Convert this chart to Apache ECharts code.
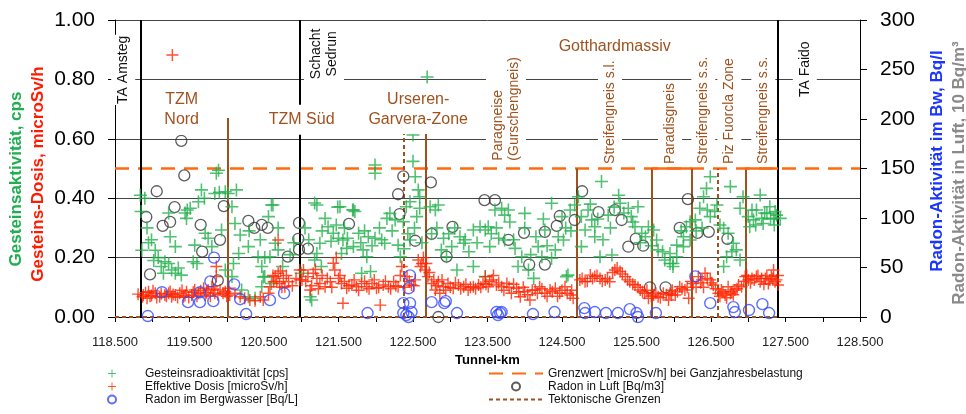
<!DOCTYPE html>
<html lang="de">
<head>
<meta charset="utf-8">
<title>Radioaktivität Gotthard-Basistunnel</title>
<script src="https://cdn.jsdelivr.net/npm/echarts@6/dist/echarts.min.js"></script>
<style>
    html, body { margin: 0; padding: 0; background: #fff; }
    #chart { width: 966px; height: 414px; }
</style>
</head>
<body>
<div id="chart"></div>
<script>
    var FONT = "'Liberation Sans', Arial, sans-serif";

    // Gesteinsradioaktivität [cps]  -> [km, cps]
    var gestein = [
        [118.84,0.41],[118.90,0.40],[118.85,0.355],[118.93,0.30],[118.86,0.225],[118.95,0.25],[118.99,0.26],[119.04,0.225],
        [119.08,0.20],[119.17,0.186],[119.22,0.18],[119.26,0.158],[119.15,0.147],[119.31,0.147],[119.39,0.141],[119.31,0.237],
        [119.24,0.27],[119.22,0.35],[119.44,0.35],[119.46,0.332],[119.51,0.366],[119.62,0.388],[119.66,0.428],[119.57,0.242],
        [119.55,0.186],[119.60,0.18],[119.71,0.282],[119.75,0.265],[119.80,0.237],[119.84,0.416],[119.89,0.494],[119.86,0.484],
        [119.98,0.422],[120.02,0.416],[120.13,0.428],[120.07,0.371],[119.93,0.293],[120.11,0.315],[120.18,0.276],[120.16,0.214],
        [120.09,0.18],[120.07,0.136],[120.20,0.091],[120.29,0.068],[120.38,0.063],[120.47,0.102],[120.51,0.136],[120.42,0.203],
        [120.58,0.203],[120.60,0.377],[120.56,0.338],[120.69,0.30],[120.65,0.248],[120.69,0.226],[120.29,0.237],[120.47,0.17],
        [120.60,0.113],[121.00,0.147],[119.98,0.158],[120.62,0.377],[120.51,0.20],[120.49,0.135],[119.02,0.19],[119.12,0.17],
        [119.35,0.165],[119.47,0.36],[119.70,0.40],[119.90,0.42],[120.30,0.29],[120.45,0.26],[120.75,0.17],[120.85,0.21],[120.90,0.25],
        [121.99,0.512],[121.99,0.484],[122.50,0.613],[122.50,0.524],[122.53,0.472],[122.57,0.428],[122.59,0.405],[122.55,0.338],
        [122.59,0.366],[122.46,0.388],[122.41,0.371],[122.37,0.321],[122.19,0.349],[122.26,0.327],[122.15,0.332],[121.70,0.36],
        [121.72,0.355],[121.52,0.371],[121.32,0.332],[121.21,0.377],[121.36,0.304],[121.43,0.282],[121.50,0.265],[121.56,0.259],
        [121.77,0.282],[121.90,0.27],[121.99,0.265],[122.12,0.248],[121.61,0.231],[121.70,0.237],[121.83,0.226],[121.88,0.203],
        [121.54,0.214],[121.25,0.248],[121.21,0.214],[121.18,0.192],[121.27,0.17],[121.12,0.068],[121.14,0.057],[121.81,0.147],
        [121.93,0.153],[122.30,0.242],[122.33,0.203],[122.46,0.259],[122.73,0.371],[122.84,0.377],[122.80,0.36],[122.91,0.265],
        [122.88,0.226],[122.95,0.203],[123.02,0.237],[123.13,0.27],[123.18,0.248],[123.31,0.293],[123.40,0.304],[123.47,0.293],
        [123.31,0.17],[123.47,0.136],[123.09,0.158],[122.69,0.808],[121.18,0.384],[121.49,0.37],[121.69,0.36],
        [121.05,0.30],[121.10,0.26],[121.28,0.29],[121.40,0.255],[121.47,0.31],[121.58,0.30],[121.62,0.265],[121.80,0.25],
        [121.85,0.29],[121.95,0.24],[122.05,0.30],[122.08,0.26],[122.22,0.29],[122.38,0.23],[122.43,0.28],[122.52,0.30],
        [122.62,0.25],[122.75,0.28],[122.82,0.30],[122.98,0.28],[123.06,0.30],[123.20,0.26],[123.25,0.22],[123.36,0.25],
        [123.51,0.304],[123.53,0.237],[123.60,0.36],[123.69,0.366],[123.78,0.36],[123.73,0.343],[124.00,0.349],[123.65,0.265],
        [123.73,0.259],[123.87,0.231],[123.96,0.203],[123.91,0.17],[124.05,0.158],[124.12,0.13],[124.18,0.237],[124.23,0.203],
        [124.36,0.198],[124.41,0.226],[124.52,0.259],[124.50,0.338],[124.58,0.141],[124.56,0.136],[124.61,0.36],[124.67,0.377],
        [124.72,0.405],[124.76,0.338],[124.81,0.293],[124.76,0.237],[124.85,0.36],[124.90,0.327],[124.94,0.304],[124.94,0.27],
        [125.03,0.456],[125.12,0.343],[125.26,0.41],[125.28,0.383],[125.39,0.366],[125.52,0.371],[125.43,0.338],[125.48,0.304],
        [125.57,0.282],[125.66,0.304],[125.73,0.293],[125.77,0.259],[125.79,0.226],[125.88,0.192],[125.95,0.18],[125.17,0.209],
        [125.01,0.203],[124.36,0.383],[124.27,0.293],[123.55,0.28],[123.62,0.30],[123.80,0.32],[123.85,0.26],[124.00,0.30],
        [124.08,0.21],[124.15,0.27],[124.25,0.33],[124.30,0.24],[124.45,0.27],[124.55,0.30],[124.62,0.29],[124.88,0.38],
        [124.98,0.33],[125.05,0.26],[125.15,0.30],[125.20,0.37],[125.33,0.35],[125.45,0.32],[125.55,0.25],[125.62,0.27],
        [125.70,0.24],[125.85,0.22],
        [125.99,0.18],[125.95,0.214],[126.04,0.242],[126.13,0.27],[126.17,0.304],[126.22,0.321],[126.29,0.327],[126.35,0.366],
        [126.40,0.405],[126.44,0.433],[126.49,0.472],[126.49,0.338],[126.55,0.355],[126.58,0.377],[126.76,0.439],[126.67,0.299],
        [126.73,0.282],[126.80,0.248],[126.84,0.226],[126.89,0.192],[126.71,0.203],[126.67,0.17],[126.22,0.259],[126.13,0.237],
        [126.04,0.203],[125.99,0.17],[126.89,0.366],[126.93,0.405],[127.00,0.338],[127.07,0.327],[127.16,0.411],[127.11,0.36],
        [127.20,0.315],[127.25,0.349],[127.29,0.371],[127.34,0.332],[127.38,0.343],[127.36,0.355],[127.43,0.332],[127.02,0.304],
        [127.18,0.332],[126.10,0.29],[126.30,0.29],[126.38,0.30],[126.45,0.36],[126.62,0.31],[126.78,0.22],[127.05,0.36],
        [127.10,0.31],[127.22,0.35],[127.30,0.33],[127.35,0.31]
    ];

    // Effektive Dosis [microSv/h]  -> [km, microSv/h]
    var dosis = [
        [119.27,0.882],
        [118.81,0.077],[118.88,0.074],[118.93,0.063],[118.95,0.085],[118.99,0.072],[119.04,0.08],[119.10,0.068],[119.17,0.074],
        [119.22,0.08],[119.26,0.068],[119.31,0.074],[119.37,0.08],[119.42,0.068],[119.46,0.085],[119.53,0.074],[119.57,0.091],
        [119.62,0.08],[119.69,0.097],[119.71,0.074],[119.75,0.091],[119.80,0.102],[119.84,0.08],[119.86,0.17],[119.86,0.136],
        [119.91,0.091],[119.98,0.085],[120.02,0.097],[120.04,0.074],[120.11,0.08],[120.18,0.068],[120.24,0.063],[120.31,0.057],
        [120.38,0.055],[120.45,0.068],[120.49,0.057],[120.56,0.08],[120.58,0.102],[120.63,0.119],[120.65,0.136],[120.69,0.147],
        [120.71,0.113],[120.76,0.13],[120.69,0.259],[120.78,0.102],[120.83,0.119],[120.98,0.158],[121.01,0.125],
        [118.87,0.068],[118.91,0.082],[118.97,0.07],[119.01,0.088],[119.06,0.066],[119.12,0.078],[119.19,0.07],[119.24,0.086],
        [119.28,0.076],[119.34,0.066],[119.40,0.09],[119.44,0.072],[119.49,0.066],[119.55,0.083],[119.60,0.07],[119.65,0.088],
        [119.73,0.082],[119.78,0.07],[119.82,0.094],[119.88,0.075],[119.95,0.08],[120.00,0.07],[120.62,0.14],[120.67,0.12],
        [120.72,0.155],[120.74,0.10],[120.80,0.14],[120.88,0.105],[120.93,0.13],
        [120.98,0.125],[121.03,0.158],[121.09,0.136],[121.16,0.147],[121.21,0.13],[121.12,0.091],[121.25,0.113],[121.32,0.102],
        [121.39,0.119],[121.43,0.181],[121.45,0.158],[121.50,0.13],[121.54,0.113],[121.56,0.046],[121.61,0.097],[121.68,0.108],
        [121.74,0.102],[121.81,0.113],[121.88,0.102],[121.95,0.113],[122.01,0.097],[122.06,0.04],[122.10,0.108],[122.17,0.102],
        [122.24,0.119],[122.30,0.102],[122.35,0.17],[122.42,0.136],[122.48,0.108],[122.53,0.125],[122.57,0.192],[122.62,0.18],
        [122.66,0.158],[122.70,0.136],[122.75,0.113],[122.80,0.091],[122.84,0.119],[122.86,0.08],[122.91,0.102],[122.97,0.113],
        [123.04,0.097],[123.11,0.108],[123.18,0.102],[123.24,0.091],[123.31,0.102],[123.38,0.108],[123.44,0.113],[123.51,0.102],
        [121.06,0.12],[121.14,0.105],[121.19,0.16],[121.23,0.095],[121.28,0.14],[121.35,0.13],[121.41,0.10],[121.47,0.20],
        [121.52,0.14],[121.58,0.12],[121.64,0.105],[121.71,0.125],[121.77,0.09],[121.85,0.12],[121.91,0.095],[121.98,0.125],
        [122.04,0.10],[122.13,0.12],[122.20,0.095],[122.27,0.105],[122.33,0.14],[122.39,0.10],[122.45,0.12],[122.51,0.105],
        [122.60,0.17],[122.64,0.20],[122.68,0.18],[122.72,0.15],[122.78,0.125],[122.82,0.105],[122.89,0.125],[122.94,0.09],
        [123.00,0.10],[123.07,0.115],[123.14,0.095],[123.21,0.11],[123.27,0.10],[123.34,0.095],[123.41,0.10],[123.48,0.11],
        [123.47,0.136],[123.56,0.125],[123.62,0.108],[123.69,0.102],[123.76,0.113],[123.82,0.08],[123.89,0.097],[123.94,0.068],
        [124.00,0.085],[124.07,0.057],[124.14,0.091],[124.20,0.102],[124.27,0.08],[124.34,0.091],[124.41,0.097],[124.47,0.08],
        [124.54,0.102],[124.61,0.074],[124.65,0.063],[124.74,0.125],[124.81,0.119],[124.88,0.141],[124.94,0.136],[125.01,0.13],
        [125.08,0.125],[125.14,0.119],[125.21,0.158],[125.28,0.153],[125.35,0.136],[125.41,0.119],[125.48,0.108],[125.55,0.091],
        [125.61,0.08],[125.66,0.063],[125.73,0.074],[125.79,0.068],[125.86,0.08],[125.93,0.057],[125.97,0.074],
        [123.53,0.12],[123.58,0.14],[123.65,0.115],[123.72,0.09],[123.79,0.10],[123.85,0.11],[123.92,0.085],[123.98,0.10],
        [124.04,0.075],[124.10,0.09],[124.17,0.08],[124.23,0.095],[124.30,0.07],[124.37,0.085],[124.44,0.07],[124.50,0.09],
        [124.57,0.08],[124.63,0.09],[124.77,0.13],[124.84,0.12],[124.91,0.13],[124.97,0.14],[125.04,0.12],[125.11,0.13],
        [125.18,0.15],[125.24,0.165],[125.31,0.145],[125.38,0.125],[125.45,0.11],[125.52,0.10],[125.58,0.085],[125.64,0.09],
        [125.70,0.07],[125.76,0.08],[125.82,0.065],[125.90,0.075],
        [125.95,0.08],[126.02,0.074],[126.08,0.102],[126.15,0.091],[126.20,0.063],[126.26,0.113],[126.33,0.136],[126.38,0.125],
        [126.42,0.147],[126.49,0.125],[126.53,0.108],[126.60,0.08],[126.64,0.091],[126.69,0.074],[126.73,0.102],[126.78,0.085],
        [126.82,0.091],[126.87,0.108],[126.91,0.102],[126.96,0.136],[127.00,0.125],[127.05,0.13],[127.11,0.136],[127.16,0.119],
        [127.23,0.13],[127.27,0.113],[127.31,0.136],[127.36,0.119],[127.40,0.108],[127.34,0.158],
        [125.98,0.09],[126.05,0.085],[126.11,0.095],[126.18,0.10],[126.23,0.12],[126.30,0.10],[126.36,0.115],[126.40,0.10],
        [126.45,0.13],[126.51,0.115],[126.56,0.095],[126.62,0.07],[126.66,0.085],[126.71,0.065],[126.76,0.08],[126.80,0.075],
        [126.85,0.095],[126.94,0.12],[126.98,0.14],[127.03,0.115],[127.08,0.125],[127.13,0.14],[127.18,0.13],[127.21,0.11],
        [127.25,0.14],[127.29,0.125],[127.33,0.13],[127.38,0.125],[127.40,0.14]
    ];

    // Radon im Bergwasser [Bq/L]  -> [km, Bq/L]
    var radonWasser = [
        [119.83,60],[119.13,25],[119.48,15],[119.64,25],[119.64,15],[119.82,16],[119.78,36],[120.10,33],[120.18,18],
        [120.58,17],[120.77,24],[118.94,1],[120.26,3],[121.89,4],[122.46,42],[122.44,29],[122.37,14],[122.46,14],
        [122.37,4],[122.41,2],[122.48,5],[122.44,0],[122.75,15],[122.92,14],[122.94,16],[123.09,4],[123.62,5],[123.67,4],
        [123.69,5],[123.64,2],[124.11,3],[124.40,5],[124.80,9],[124.81,4],[124.94,5],[125.09,4],[125.25,4],[125.41,8],
        [125.50,4],[125.52,0],[125.76,4],[126.29,41],[126.49,14],[126.80,10],[126.82,5],[127.01,7],[127.19,13],[127.28,4]
    ];

    // Radon in Luft [Bq/m3], Skala 10 Bq/m3  -> [km, Wert]
    var radonLuft = [
        [119.39,178],[119.43,143],[119.06,127],[119.30,111],[118.92,101],[119.14,92],[119.24,96],[119.65,93],[119.96,112],
        [119.91,78],[119.67,66],[119.88,37],[118.97,43],[120.29,97],[120.37,90],[120.47,93],[120.55,90],[120.82,61],
        [120.97,95],[120.96,79],[120.97,68],[121.09,69],[121.64,94],[122.37,142],[122.30,124],[122.32,104],[122.53,77],
        [122.74,136],[122.75,84],[123.03,91],[122.95,61],[123.46,118],[122.84,0],[123.60,118],[123.78,78],[123.99,85],
        [124.06,53],[124.27,53],[124.27,86],[124.43,92],[124.47,102],[124.67,98],[124.77,127],[124.99,106],[125.21,108],
        [125.30,98],[125.39,71],[125.49,79],[125.59,72],[125.68,30],[125.89,30],[126.19,119],[126.08,90],[126.32,85],
        [126.47,86],[126.72,79]
    ];

    var grenzwert = 0.5;                        // microSv/h
    var stationen = [118.84, 120.98, 127.40];   // TA Amsteg, Schacht Sedrun, TA Faido
    // Tektonische Grenzen: [km, oberes Ende]
    var grenzenSolid = [[120.02,0.67],[122.67,0.636],[124.70,0.5],[125.71,0.5],[126.24,0.5],[126.96,0.5]];
    var grenzenDashed = [[122.37,0.636],[126.59,0.5]];
    var grenzenBoden = [118.5, 127.40];
    var kasten = [[125.71,126.24],[126.96,127.40]];

    var kmMin = 118.5, kmMax = 128.5, kmStep = 1;

    var brown = '#a0521e';
    var annot = [
        {t:'TA Amsteg', km:118.61, v:0.714, rot:true, c:'#111', s:14, a:'left'},
        {t:'Schacht\nSedrun', km:121.305, v:0.886, rot:true, c:'#111', s:14, a:'center'},
        {t:'TA Faido', km:127.76, v:0.737, rot:true, c:'#111', s:14, a:'left'},
        {t:'TZM\nNord', km:119.395, v:0.697, rot:false, c:brown, s:16, a:'center'},
        {t:'TZM Süd', km:121.006, v:0.664, rot:false, c:brown, s:16, a:'center'},
        {t:'Urseren-\nGarvera-Zone', km:122.57, v:0.70, rot:false, c:brown, s:16, a:'center'},
        {t:'Gotthardmassiv', km:125.207, v:0.91, rot:false, c:brown, s:16, a:'center'},
        {t:'Paragneise\n(Gurschengneis)', km:123.748, v:0.523, rot:true, c:brown, s:14, a:'left'},
        {t:'Streifengneis s.l.', km:125.144, v:0.512, rot:true, c:brown, s:14, a:'left'},
        {t:'Paradisgneis', km:125.95, v:0.512, rot:true, c:brown, s:14, a:'left'},
        {t:'Streifengneis s.s.', km:126.397, v:0.512, rot:true, c:brown, s:14, a:'left'},
        {t:'Piz Fuorcla Zone', km:126.746, v:0.512, rot:true, c:brown, s:14, a:'left'},
        {t:'Streifengneis s.s.', km:127.202, v:0.512, rot:true, c:brown, s:14, a:'left'}
    ];

    var plus = 'path://M0,4.4H10V5.6H0Z M4.4,0H5.6V10H4.4Z';

    function vLines(list) {
        return list.map(function (d) {
            return [{coord: [d[0], 0]}, {coord: [d[0], d[1]]}];
        });
    }

    var chart = echarts.init(document.getElementById('chart'), null, {renderer: 'canvas'});

    var legendText = {fontSize: 12, lineHeight: 13, color: '#111', fontFamily: FONT};
    var noSymbol = {opacity: 0};

    var option = {
        animation: false,
        textStyle: {fontFamily: FONT},
        grid: {left: 115, right: 106, top: 20, bottom: 97, containLabel: false},
        legend: [{
            left: 107, top: 367, height: 46, padding: 0, orient: 'vertical',
            itemWidth: 56, itemHeight: 8, itemGap: 0, textStyle: legendText,
            data: ['Gesteinsradioaktivität [cps]', 'Effektive Dosis [microSv/h]', 'Radon im Bergwasser [Bq/L]']
        }, {
            left: 488, top: 367, height: 46, padding: 0, orient: 'vertical',
            itemWidth: 54, itemHeight: 8, itemGap: 0, textStyle: legendText,
            data: [
                {name: 'Grenzwert [microSv/h] bei Ganzjahresbelastung', itemStyle: noSymbol},
                'Radon in Luft [Bq/m3]',
                {name: 'Tektonische Grenzen', itemStyle: noSymbol}
            ]
        }],
        xAxis: {
            type: 'value', min: kmMin, max: kmMax, interval: kmStep,
            name: 'Tunnel-km', nameLocation: 'middle', nameGap: 35,
            nameTextStyle: {fontSize: 13, fontWeight: 'bold', color: '#000'},
            axisLine: {lineStyle: {color: '#000', width: 1}},
            axisTick: {show: true, length: 5, lineStyle: {color: '#000'}},
            minorTick: {show: true, splitNumber: 2, length: 5, lineStyle: {color: '#000'}},
            axisLabel: {fontSize: 13, color: '#222', margin: 19, formatter: function (v) { return v.toFixed(3); }},
            splitLine: {show: false}
        },
        yAxis: [{
            type: 'value', min: 0, max: 1, interval: 0.2, position: 'left',
            axisLine: {show: true, lineStyle: {color: '#000'}},
            axisTick: {show: true, length: 7, lineStyle: {color: '#000'}},
            axisLabel: {fontSize: 21, color: '#000', margin: 20, formatter: function (v) { return v.toFixed(2); }},
            splitLine: {show: true, lineStyle: {color: '#444', width: 1}}
        }, {
            type: 'value', min: 0, max: 300, interval: 50, position: 'right',
            axisLine: {show: true, lineStyle: {color: '#000'}},
            axisTick: {show: true, length: 7, lineStyle: {color: '#000'}},
            axisLabel: {fontSize: 21, color: '#000', margin: 20},
            splitLine: {show: false}
        }],
        series: [{
            name: 'Tektonische Grenzen', type: 'line', data: [], symbol: 'none', z: 3,
            lineStyle: {color: brown, width: 2, type: [4, 3]},
            markLine: {
                silent: true, symbol: 'none', label: {show: false},
                lineStyle: {color: brown, width: 2, type: [4, 3]},
                data: vLines(grenzenDashed).concat([[{coord: [grenzenBoden[0], 0]}, {coord: [grenzenBoden[1], 0]}]])
            }
        }, {
            name: 'Tektonische Grenzen', type: 'line', data: [], symbol: 'none', z: 3,
            lineStyle: {color: brown, width: 2},
            markLine: {
                silent: true, symbol: 'none', label: {show: false},
                lineStyle: {color: brown, width: 2, type: 'solid'},
                data: vLines(grenzenSolid)
            }
        }, {
            name: 'stationen', type: 'line', data: [], symbol: 'none', z: 3,
            markLine: {
                silent: true, symbol: 'none', label: {show: false},
                lineStyle: {color: '#000', width: 2, type: 'solid'},
                data: stationen.map(function (k) { return [{coord: [k, 0]}, {coord: [k, 1]}]; })
            }
        }, {
            name: 'Grenzwert [microSv/h] bei Ganzjahresbelastung', type: 'line', symbol: 'none', z: 4,
            data: [[kmMin, grenzwert], [kmMax, grenzwert]],
            lineStyle: {color: '#ff6a10', width: 2.5, type: [14, 9]},
            markLine: {
                silent: true, symbol: 'none', label: {show: false},
                lineStyle: {color: '#ff6a10', width: 2.5, type: 'solid'},
                data: kasten.map(function (k) { return [{coord: [k[0], grenzwert]}, {coord: [k[1], grenzwert]}]; })
            }
        }, {
            name: 'Radon in Luft [Bq/m3]', type: 'scatter', yAxisIndex: 1, data: radonLuft, z: 5,
            symbol: 'circle', symbolSize: 11,
            itemStyle: {color: 'rgba(255,255,255,0)', borderColor: '#333', borderWidth: 1.3}
        }, {
            name: 'Gesteinsradioaktivität [cps]', type: 'scatter', data: gestein, z: 6,
            symbol: plus, symbolSize: 13,
            itemStyle: {color: '#24b04e', opacity: 0.8}
        }, {
            name: 'Effektive Dosis [microSv/h]', type: 'scatter', data: dosis, z: 7,
            symbol: plus, symbolSize: 12,
            itemStyle: {color: '#ff2400', opacity: 0.8}
        }, {
            name: 'Radon im Bergwasser [Bq/L]', type: 'scatter', yAxisIndex: 1, data: radonWasser, z: 8,
            symbol: 'circle', symbolSize: 11,
            itemStyle: {color: 'rgba(255,255,255,0)', borderColor: '#3348ff', borderWidth: 1.4}
        }]
    };
    chart.setOption(option);

    // Beschriftungen an Datenkoordinaten, Achsentitel
    var texts = annot.map(function (a) {
        var p = chart.convertToPixel({xAxisIndex: 0, yAxisIndex: 0}, [a.km, a.v]);
        return {
            type: 'text', x: p[0], y: p[1], rotation: a.rot ? Math.PI / 2 : 0, z: 100,
            style: {
                text: a.t, fill: a.c, font: a.s + 'px ' + FONT, textAlign: a.a,
                textVerticalAlign: 'middle', lineHeight: a.rot ? 16 : 20,
                backgroundColor: '#fff', padding: a.rot ? [4, 1, 4, 1] : [5, 2, 5, 2]
            }
        };
    });
    var titles = [
        {t: 'Gesteinsaktivität, cps', x: 16, y: 179, c: '#1fae50'},
        {t: 'Gesteins-Dosis, microSv/h', x: 38, y: 174, c: '#ff1a00'},
        {t: 'Radon-Aktivität im Bw, Bq/l', x: 937, y: 161, c: '#1a35ff'},
        {t: 'Radon-Aktivität in Luft, 10 Bq/m³', x: 959, y: 173, c: '#8a8a8a'}
    ].map(function (a) {
        return {
            type: 'text', x: a.x, y: a.y, rotation: Math.PI / 2, z: 100,
            style: {text: a.t, fill: a.c, font: 'bold 17px ' + FONT, textAlign: 'center', textVerticalAlign: 'middle'}
        };
    });
    chart.setOption({graphic: texts.concat(titles)});
</script>
</body>
</html>
